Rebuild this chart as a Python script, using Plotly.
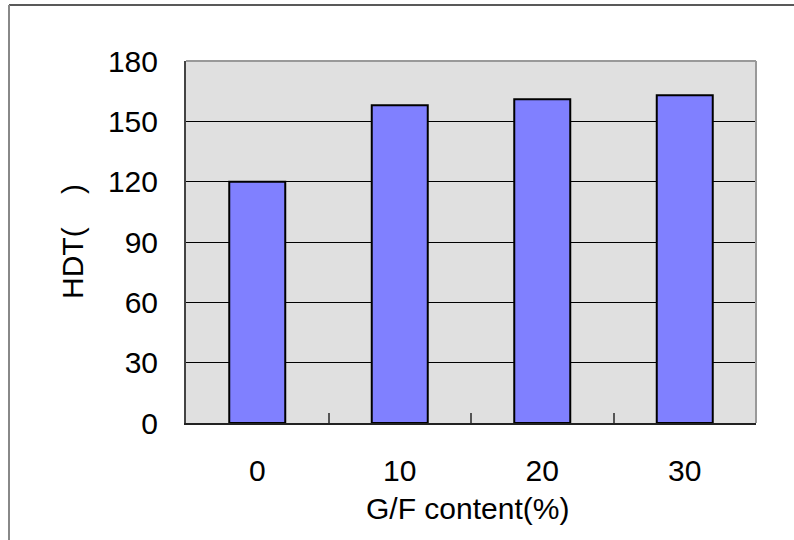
import plotly.graph_objects as go

categories = ["0", "10", "20", "30"]
hdt_values = [120, 158, 161, 163]
y_ticks = [0, 30, 60, 90, 120, 150, 180]

W, H = 794, 540
L, T = 186, 61
pw, ph = 570, 362
R = W - L - pw
B = H - T - ph

def px_x(px):
    return (px - L) / pw

def px_y(py):
    return (T + ph - py) / ph

font = dict(family="Liberation Sans, Arial, sans-serif", size=30, color="black")

fig = go.Figure(go.Bar(
    x=categories, y=hdt_values,
    marker=dict(color="#8080FF", line=dict(color="black", width=2)),
))

fig.update_layout(
    width=W, height=H,
    margin=dict(l=L, r=R, t=T, b=B, autoexpand=False),
    paper_bgcolor="white", plot_bgcolor="#E0E0E0",
    bargap=0.607, showlegend=False, font=font,
    shapes=[
        dict(type="line", xref="paper", yref="paper", x0=0, x1=1, y0=1, y1=1,
             line=dict(color="#999999", width=2), layer="above"),
        dict(type="line", xref="paper", yref="paper", x0=1, x1=1, y0=0, y1=1,
             line=dict(color="#999999", width=2), layer="above"),
        dict(type="line", xref="paper", yref="paper", x0=px_x(9), x1=px_x(810),
             y0=px_y(5), y1=px_y(5), line=dict(color="#222222", width=1.5)),
        dict(type="line", xref="paper", yref="paper", x0=px_x(9), x1=px_x(9),
             y0=px_y(5), y1=px_y(560), line=dict(color="#888888", width=2)),
    ],
    annotations=[
        dict(text="G/F content(%)", xref="paper", yref="paper",
             x=px_x(467), y=px_y(508), showarrow=False, font=font,
             xanchor="center", yanchor="middle"),
        dict(text="HDT(\u00a0\u00a0\u00a0\u00a0)", xref="paper", yref="paper",
             x=px_x(72), y=0.5, showarrow=False, font=font, textangle=-90,
             xanchor="center", yanchor="middle"),
    ],
)

fig.update_xaxes(
    type="category", tickson="boundaries", ticks="inside", ticklen=10,
    tickcolor="#555555", tickwidth=1.5, showline=True, linecolor="#222222",
    linewidth=2, showgrid=False, ticklabelstandoff=20, tickfont=font,
)
fig.update_yaxes(
    range=[0, 180], tickvals=y_ticks, ticks="inside", ticklen=4,
    tickcolor="black", showline=True, linecolor="#444444", linewidth=2,
    showgrid=True, gridcolor="black", gridwidth=1, zeroline=False,
    ticklabelstandoff=20, tickfont=font,
)

fig.write_html("out.html", config={"displayModeBar": False},
               post_script="document.body.style.margin='0px';")
